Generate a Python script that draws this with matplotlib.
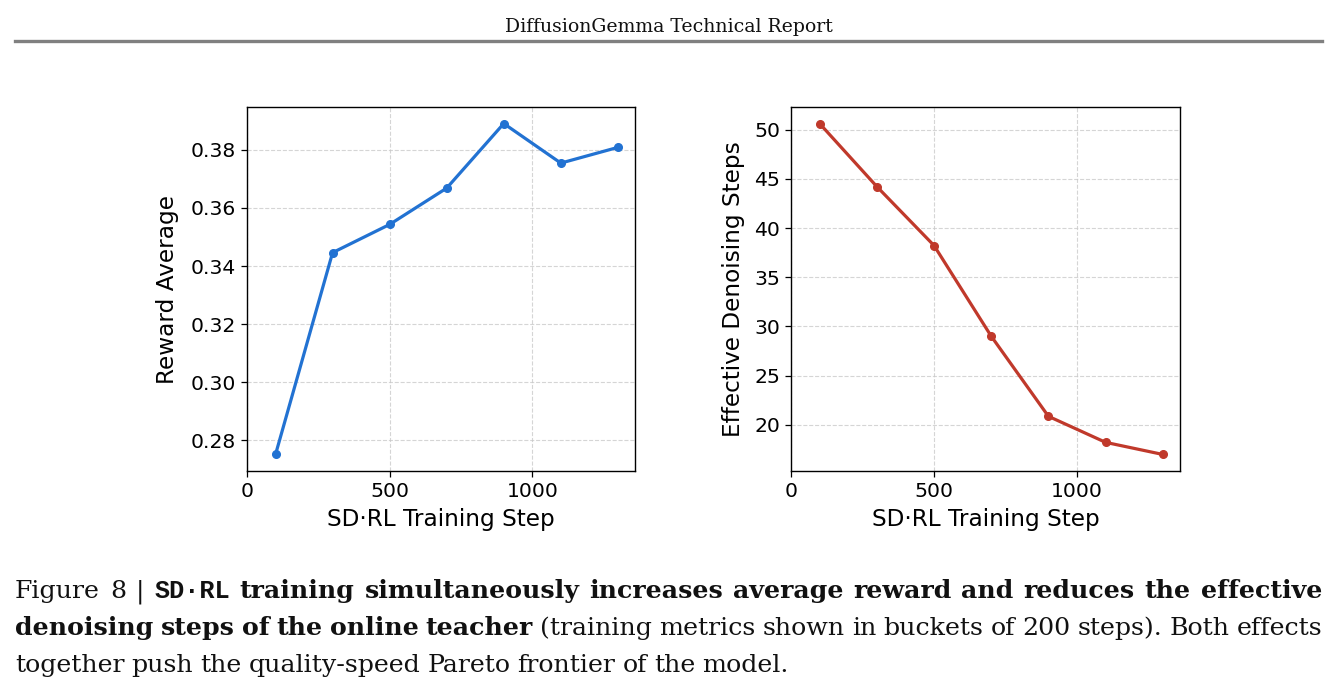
import matplotlib
matplotlib.use("Agg")
import matplotlib.pyplot as plt
from matplotlib.lines import Line2D

# ---------------- data ----------------
steps = [100, 300, 500, 700, 900, 1100, 1300]
reward_avg = [0.2752, 0.3446, 0.3543, 0.3668, 0.3890, 0.3754, 0.3808]
denoise_steps = [50.64, 44.23, 38.23, 29.00, 20.85, 18.20, 16.97]
x_ticks = [0, 500, 1000]
reward_ticks = [0.28, 0.30, 0.32, 0.34, 0.36, 0.38]
denoise_ticks = [20, 25, 30, 35, 40, 45, 50]
x_label = "SD·RL Training Step"
left_ylabel = "Reward Average"
right_ylabel = "Effective Denoising Steps"
header = "DiffusionGemma Technical Report"

W, H = 1337, 689
fig = plt.figure(figsize=(W / 100, H / 100), dpi=100)
fig.patch.set_facecolor("white")


def px_axes(x0, y0, x1, y1):
    return fig.add_axes([x0 / W, 1 - y1 / H, (x1 - x0) / W, (y1 - y0) / H])


ax1 = px_axes(247, 107, 635, 471)
ax2 = px_axes(791, 107, 1180, 471)

for ax, vals, col, yl, yt, pad in [
    (ax1, reward_avg, "#2272d2", left_ylabel, reward_ticks, 8),
    (ax2, denoise_steps, "#c0392b", right_ylabel, denoise_ticks, 6.5),
]:
    ax.plot(steps, vals, "-o", color=col, lw=2.3, ms=5.5)
    ax.set_xlim(left=0)
    ax.set_xticks(x_ticks)
    ax.set_yticks(yt)
    if ax is ax1:
        ax.set_yticklabels([f"{v:.2f}" for v in yt])
    ax.grid(True, linestyle="--", color="#c8c8c8", alpha=0.75, lw=0.8)
    ax.set_axisbelow(True)
    ax.tick_params(labelsize=14.7, length=4.5, width=0.9)
    ax.set_xlabel(x_label, fontsize=16.7, labelpad=5)
    ax.set_ylabel(yl, fontsize=16.7, labelpad=pad)
    for s in ax.spines.values():
        s.set_linewidth(1.0)

# ---------------- header ----------------
fig.text(0.5, 1 - 32 / H, header, ha="center", va="baseline",
         fontsize=13.6, family="DejaVu Serif", color="#111111")
fig.add_artist(Line2D([15 / W, 1322 / W], [1 - 41 / H, 1 - 41 / H],
                      color="#808080", lw=2.4, transform=fig.transFigure))

# ---------------- caption (justified) ----------------
renderer = fig.canvas.get_renderer()
SERIF = dict(family="DejaVu Serif")
BOLD = dict(family="DejaVu Serif", weight="bold")
MONO = dict(family="Liberation Mono", weight="bold")

line1 = [("Figure 8 | ", SERIF), ("SD·RL", MONO),
         ("training simultaneously increases average reward and reduces the effective", BOLD)]
line2 = [("denoising steps of the online teacher", BOLD),
         ("(training metrics shown in buckets of 200 steps). Both effects", SERIF)]
line3 = [("together push the quality-speed Pareto frontier of the model.", SERIF)]


def words_of(segs):
    out = []
    for txt, st in segs:
        for w in txt.split():
            out.append((w, st))
    return out


def measure(words, size):
    ws = []
    for w, st in words:
        t = fig.text(0, 0, w, fontsize=size, **st)
        ws.append(t.get_window_extent(renderer).width)
        t.remove()
    return ws


X0, X1 = 15, 1322
base = 10.0
nat = 0
for segs in (line1, line2):
    wds = words_of(segs)
    ws = measure(wds, base)
    tot = sum(ws) + (len(ws) - 1) * 0.28 * base * 100 / 72
    nat = max(nat, tot)
size = base * (X1 - X0) / nat


def draw(segs, ybase, justify):
    wds = words_of(segs)
    ws = measure(wds, size)
    if justify:
        gap = (X1 - X0 - sum(ws)) / (len(ws) - 1)
    else:
        gap = 0.28 * size * 100 / 72
    x = X0
    for (w, st), wd in zip(wds, ws):
        fig.text(x / W, 1 - ybase / H, w, fontsize=size, va="baseline",
                 ha="left", color="#111111", **st)
        x += wd + gap


draw(line1, 598, True)
draw(line2, 635, True)
draw(line3, 672, False)

fig.savefig("out.png", dpi=100, facecolor="white")
